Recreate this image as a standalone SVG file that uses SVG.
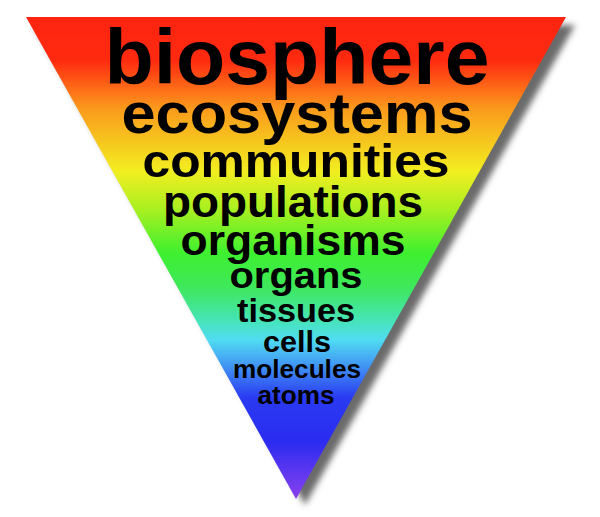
<svg xmlns="http://www.w3.org/2000/svg" width="600" height="517" viewBox="0 0 600 517">
<style>
.t{font-family:"Liberation Sans",Arial,Helvetica,sans-serif;font-weight:bold;fill:#000;text-anchor:middle;}
</style>
<defs>
<linearGradient id="rainbow" gradientUnits="userSpaceOnUse" x1="0" y1="17" x2="0" y2="499">
<stop offset="0" stop-color="#ff2410"/>
<stop offset="0.09" stop-color="#ff2a10"/>
<stop offset="0.19" stop-color="#fb9a1c"/>
<stop offset="0.32" stop-color="#f2ee20"/>
<stop offset="0.40" stop-color="#a8f020"/>
<stop offset="0.49" stop-color="#3ef030"/>
<stop offset="0.56" stop-color="#3ee85a"/>
<stop offset="0.63" stop-color="#46e4b8"/>
<stop offset="0.67" stop-color="#50dcf2"/>
<stop offset="0.73" stop-color="#3f8cf4"/>
<stop offset="0.79" stop-color="#2a3af2"/>
<stop offset="0.88" stop-color="#2a2cf0"/>
<stop offset="1" stop-color="#8a40ee"/>
</linearGradient>
<filter id="shadow" x="-10%" y="-10%" width="130%" height="130%">
<feGaussianBlur stdDeviation="3"/>
</filter>
</defs>
<g id="pyramid">
<polygon points="34,25 575,25 305,505" fill="#6a6a6a" filter="url(#shadow)"/>
<polygon points="26,17 566,17 296,499" fill="url(#rainbow)"/>
</g>
<g id="labels">
<g id="biosphere"><text class="t" x="297" y="84" font-size="78" textLength="385" lengthAdjust="spacingAndGlyphs">biosphere</text></g>
<g id="ecosystems"><text class="t" x="297" y="133" font-size="58" textLength="351" lengthAdjust="spacingAndGlyphs">ecosystems</text></g>
<g id="communities"><text class="t" x="296" y="177" font-size="47" textLength="307" lengthAdjust="spacingAndGlyphs">communities</text></g>
<g id="populations"><text class="t" x="293" y="217" font-size="45" textLength="260" lengthAdjust="spacingAndGlyphs">populations</text></g>
<g id="organisms"><text class="t" x="293" y="255" font-size="43" textLength="225" lengthAdjust="spacingAndGlyphs">organisms</text></g>
<g id="organs"><text class="t" x="296" y="288" font-size="37" textLength="133" lengthAdjust="spacingAndGlyphs">organs</text></g>
<g id="tissues"><text class="t" x="296" y="322" font-size="33" textLength="118" lengthAdjust="spacingAndGlyphs">tissues</text></g>
<g id="cells"><text class="t" x="297" y="352" font-size="29" textLength="68" lengthAdjust="spacingAndGlyphs">cells</text></g>
<g id="molecules"><text class="t" x="297" y="378" font-size="25" textLength="128" lengthAdjust="spacingAndGlyphs">molecules</text></g>
<g id="atoms"><text class="t" x="296" y="404" font-size="25" textLength="77" lengthAdjust="spacingAndGlyphs">atoms</text></g>
</g>
</svg>
